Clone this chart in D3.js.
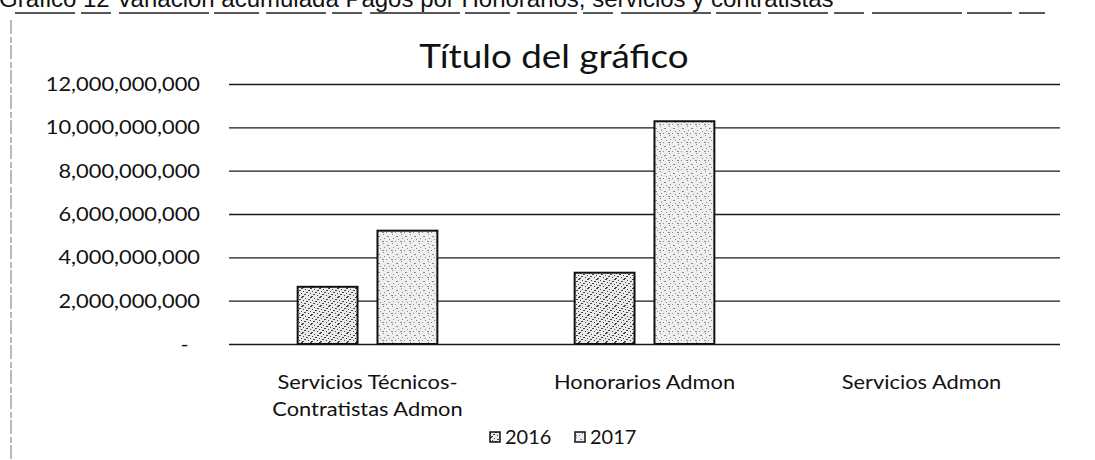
<!DOCTYPE html>
<html>
<head>
<meta charset="utf-8">
<script src="https://cdn.jsdelivr.net/npm/d3@7"></script>
<style>
  html, body { margin: 0; padding: 0; background: #fff; }
  svg { display: block; }
</style>
</head>
<body>
<svg id="chart" width="1095" height="460"></svg>
<script>
// ---- data ----
const categories = ["Servicios Técnicos-\nContratistas Admon", "Honorarios Admon", "Servicios Admon"];
const seriesNames = ["2016", "2017"];
const values2016 = [2640000000, 3290000000, 0];
const values2017 = [5230000000, 10280000000, 0];
const yTicks = [0, 2000000000, 4000000000, 6000000000, 8000000000, 10000000000, 12000000000];
const chartTitle = "Título del gráfico";
const headerText = "Gráfico 12 Variación acumulada Pagos por Honorarios, servicios y contratistas";

const svg = d3.select("#chart");
const plot = { left: 229, right: 1060, top: 84, bottom: 344 };
const SX = 1.15; // horizontal stretch of the scanned text

// patterns (scanned speckle look)
const defs = svg.append("defs");
function speckle(id, base, dotColor, dots) {
  const p = defs.append("pattern").attr("id", id).attr("patternUnits", "userSpaceOnUse")
    .attr("width", 9).attr("height", 9);
  p.append("rect").attr("width", 9).attr("height", 9).attr("fill", base);
  dots.forEach(d => p.append("rect").attr("x", d[0]).attr("y", d[1]).attr("width", d[2]).attr("height", 1).attr("fill", dotColor));
}
speckle("pat2016", "#eaeaea", "#444",
  [[0,0,2],[4,1,1],[7,2,2],[2,3,1],[5,4,2],[0,5,1],[3,6,2],[7,7,1],[1,8,2]]);
speckle("pat2017", "#efefef", "#888",
  [[1,0,1],[5,2,2],[2,4,1],[7,5,1],[0,7,2],[4,7,1]]);

// header (cut off at the top of the scanned page)
svg.append("text").attr("x", -1).attr("y", 7)
  .attr("font-family", "Liberation Sans, Arial, sans-serif").attr("font-size", 24)
  .attr("fill", "#111").text(headerText);
svg.append("line").attr("x1", 15).attr("x2", 1045).attr("y1", 13).attr("y2", 13)
  .attr("stroke", "#222").attr("stroke-width", 1.5).attr("stroke-dasharray", "60,6,30,8,90,5,45,7");
// left scan border
svg.append("line").attr("x1", 11).attr("x2", 11).attr("y1", 20).attr("y2", 460)
  .attr("stroke", "#777").attr("stroke-width", 1).attr("stroke-dasharray", "14,3,6,2");

// title
svg.append("text").attr("transform", `translate(554,68) scale(${SX},1)`).attr("text-anchor", "middle")
  .attr("font-family", "Lato, sans-serif").attr("font-size", 32).attr("fill", "#111")
  .text(chartTitle);

// scales
const x0 = d3.scaleBand().domain(categories).range([plot.left, plot.right]).padding(0);
const x1 = d3.scaleBand().domain(seriesNames).range([0, x0.bandwidth()]).paddingInner(0.25).paddingOuter(0.86);
const y = d3.scaleLinear().domain([0, 12000000000]).range([plot.bottom, plot.top]);

// gridlines
const yAxisGrid = d3.axisLeft(y).tickValues(yTicks).tickSize(-(plot.right - plot.left)).tickFormat("");
const grid = svg.append("g").attr("transform", `translate(${plot.left},0)`).call(yAxisGrid);
grid.select(".domain").remove();
grid.selectAll(".tick line").attr("stroke", "#1a1a1a").attr("stroke-width", 1.4);

// y labels
const fmt = d => d === 0 ? "-" : d3.format(",")(d);
const yAxis = d3.axisLeft(y).tickValues(yTicks).tickSize(0).tickPadding(0).tickFormat(fmt);
const ya = svg.append("g").attr("transform", `translate(200,0)`).call(yAxis);
ya.select(".domain").remove();
ya.selectAll("text").attr("font-family", "Lato, sans-serif").attr("font-size", 19)
  .attr("fill", "#111").attr("dy", "0.35em").attr("x", d => d === 0 ? -10 : 0)
  .attr("transform", `scale(${SX},1)`);

// bars
const rows = categories.map((c, i) => ({ cat: c, vals: [
  { key: "2016", v: values2016[i] }, { key: "2017", v: values2017[i] }] }));
const g = svg.append("g").selectAll("g").data(rows).join("g")
  .attr("transform", d => `translate(${x0(d.cat)},0)`);
g.selectAll("rect").data(d => d.vals.filter(e => e.v > 0)).join("rect")
  .attr("x", d => x1(d.key)).attr("width", x1.bandwidth())
  .attr("y", d => y(d.v)).attr("height", d => y(0) - y(d.v))
  .attr("fill", d => d.key === "2016" ? "url(#pat2016)" : "url(#pat2017)")
  .attr("stroke", "#111").attr("stroke-width", 2);

// category labels
const xa = svg.append("g");
categories.forEach(c => {
  const lines = c.split("\n");
  const t = xa.append("text")
    .attr("transform", `translate(${x0(c) + x0.bandwidth() / 2},389) scale(${SX},1)`)
    .attr("text-anchor", "middle").attr("font-family", "Lato, sans-serif")
    .attr("font-size", 19).attr("fill", "#111");
  lines.forEach((l, i) => t.append("tspan").attr("x", 0)
    .attr("dy", i === 0 ? 0 : 27).text(l));
});

// legend
const legend = svg.append("g").attr("transform", "translate(490,437)");
const legX = [0, 85];
seriesNames.forEach((s, i) => {
  const lg = legend.append("g").attr("transform", `translate(${legX[i]},0)`);
  lg.append("rect").attr("x", 0).attr("y", -5).attr("width", 10).attr("height", 10)
    .attr("fill", i === 0 ? "url(#pat2016)" : "url(#pat2017)").attr("stroke", "#111").attr("stroke-width", 1.5);
  lg.append("text").attr("transform", "translate(15,0) scale(1.05,1)").attr("dy", "0.35em")
    .attr("font-family", "Lato, sans-serif").attr("font-size", 19).attr("fill", "#111").text(s);
});
</script>
</body>
</html>
